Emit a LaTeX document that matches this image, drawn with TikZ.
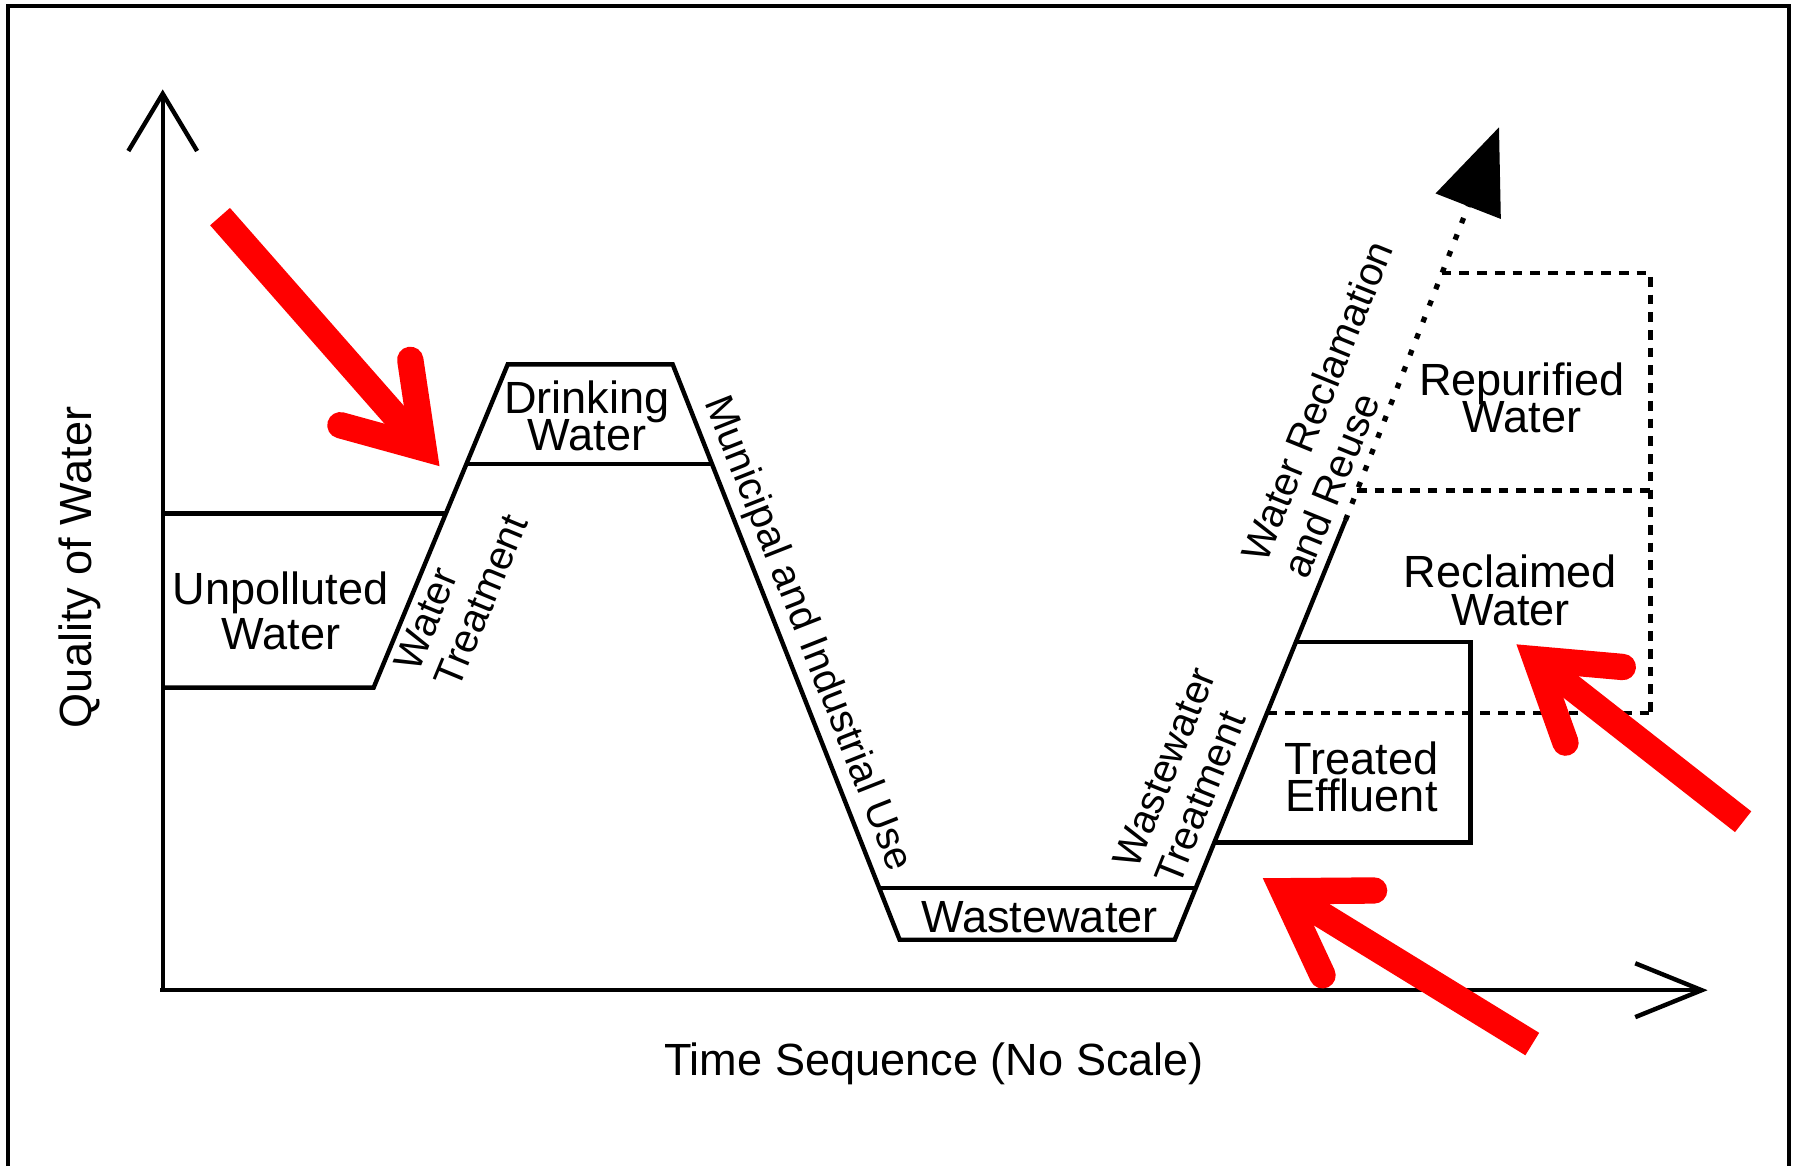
\documentclass[tikz,border=0pt]{standalone}
\usepackage{fontspec}
\setmainfont{Liberation Sans}
\usepackage{tikz}
\setlength{\lineskiplimit}{-5pt}
\tikzset{>=latex,
    curve/.style={line width=1.1pt, line join=miter},
    guide/.style={line width=1.1pt, dash pattern=on 2.4pt off 2pt},
    dotline/.style={line width=1.3pt, dash pattern=on 1.4pt off 3pt},
    boxtext/.style={font=\fontsize{11.2}{9.3}\selectfont, align=center, inner sep=0pt},
    slopetext/.style={font=\fontsize{10}{11}\selectfont, align=left, inner sep=0pt},
    hint/.style={draw=red, line width=2.3mm, line cap=round, line join=miter}}
\usetikzlibrary{arrows.meta,calc}

\begin{document}
\begin{tikzpicture}[x=0.1mm, y=-0.1mm]
    \useasboundingbox (0,0) rectangle (1568,1017.5);
    \draw[line width=1.1pt] (7,1017.5) -- (7,5) -- (1561,5) -- (1561,1017.5);

    \coordinate (O) at (142,864);
    \coordinate (ytip) at (142,78);
    \coordinate (xtip) at (1490,864);
    \draw[curve, -{Straight Barb[length=5mm, width=6mm]}] (O) -- (ytip);
    \draw[curve, -{Straight Barb[length=5.8mm, width=4.7mm]}] (140,864) -- (xtip);

    \coordinate (uTL) at (142,448);  \coordinate (uTR) at (389,448);
    \coordinate (uBL) at (142,600);  \coordinate (uBR) at (326,600);
    \coordinate (dTL) at (443,318);  \coordinate (dTR) at (587,318);
    \coordinate (dBL) at (407,405);  \coordinate (dBR) at (621,405);
    \coordinate (wTL) at (767,775);  \coordinate (wTR) at (1043,775);
    \coordinate (wBL) at (785,820);  \coordinate (wBR) at (1025,820);
    \coordinate (eTL) at (1131,560); \coordinate (eTR) at (1283,560);
    \coordinate (eBL) at (1060,735); \coordinate (eBR) at (1283,735);
    \coordinate (rEnd) at (1174,454); \coordinate (rTip) at (1308,111);

    \draw[curve] (uBL) -- (uBR) -- (dTL) -- (dTR) -- (wBL) -- (wBR) -- (rEnd);
    \draw[curve] (uTL) -- (uTR);
    \draw[curve] (dBL) -- (dBR);
    \draw[curve] (wTL) -- (wTR);
    \draw[curve] (eBL) -- (eBR) -- (eTR) -- (eTL);
    \draw[dotline, -{Triangle[length=7.4mm, width=6mm]}] (rEnd) -- (rTip);

    \coordinate (pTL) at (1258,238); \coordinate (pTR) at (1440,238);
    \coordinate (mL) at (1184,428);  \coordinate (mR) at (1440,428);
    \coordinate (bL) at (1106,622);  \coordinate (bR) at (1440,622);
    \draw[guide] (pTL) -- (pTR) -- (bR);
    \draw[guide] (mL) -- (mR);
    \draw[guide] (bL) -- (bR);

    \node[boxtext, font=\fontsize{11.2}{11}\selectfont] (unpolluted) at (245,533) {Unpolluted\\Water};
    \node[boxtext] (drinking) at (512,363) {Drinking\\Water};
    \node[boxtext] (wastewater) at (907,800) {Wastewater};
    \node[boxtext] (effluent) at (1188,678) {Treated\\Effluent};
    \node[boxtext] (reclaimed) at (1318,515) {Reclaimed\\Water};
    \node[boxtext] (repurified) at (1328,347) {Repurified\\Water};
    \node[boxtext, rotate=90] (quality) at (70,495) {Quality of Water};
    \node[boxtext] (time) at (815,928) {Time Sequence (No Scale)};
    \node[slopetext, rotate=67.5] (treatment) at (402,517) {Water\\Treatment};
    \node[slopetext, rotate=-68.5] (use) at (704,553) {Municipal and Industrial Use};
    \node[slopetext, rotate=68.2] (wwtreatment) at (1034,677) {Wastewater\\Treatment};
    \node[slopetext, rotate=67.9] (reuse) at (1167,357) {Water Reclamation\\and Reuse};

    \foreach \sx/\sy/\tx/\ty/\ax/\ay/\bx/\by in {192/189/388/412/297/371/358/314,
        1521/717/1318/558/1416/582/1366/648, 1337/911/1096/763/1199/777/1154/851} {
      \coordinate (hs) at (\sx,\sy);
      \coordinate (ht) at (\tx,\ty);
      \coordinate (hj) at ($(ht)!2.8mm!(hs)$);
      \draw[hint, line cap=butt] (hs) -- (hj);
      \draw[hint] (\ax,\ay) -- (hj) -- (\bx,\by);
    }
\end{tikzpicture}
\end{document}
